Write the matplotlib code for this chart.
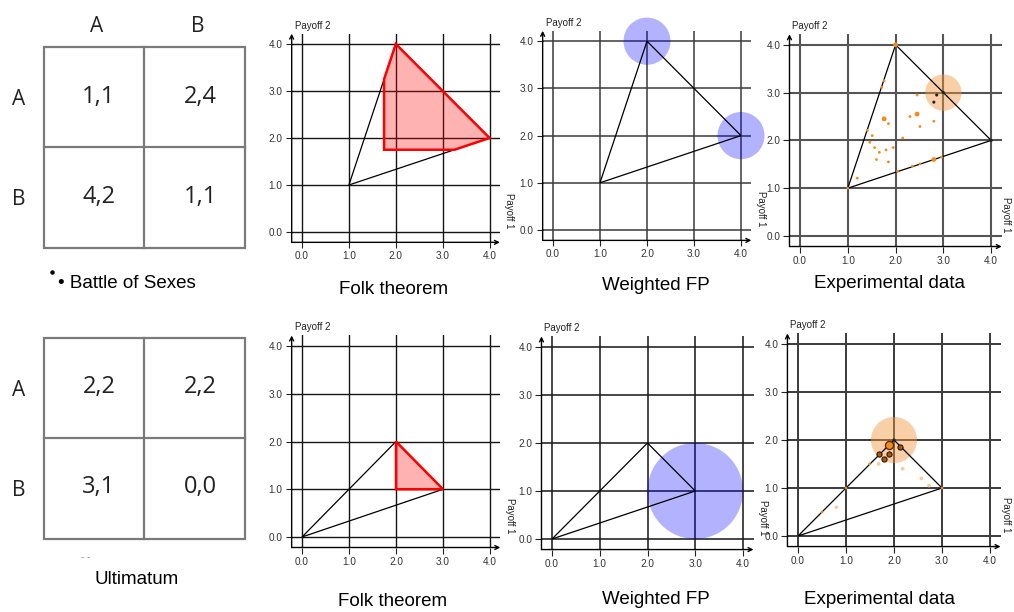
import matplotlib
matplotlib.use("Agg")
import matplotlib.pyplot as plt
from matplotlib.patches import Polygon, Circle, Rectangle

W, H = 1014, 612
fig = plt.figure(figsize=(W / 100, H / 100), dpi=100)

SANS = "Liberation Sans"
TABLE_FONT = "Open Sans"

# ---- the two stage games ----
row_labels = ["A", "B"]
col_labels = ["A", "B"]
bos_payoffs = [["1,1", "2,4"], ["4,2", "1,1"]]
ult_payoffs = [["2,2", "2,2"], ["3,1", "0,0"]]

# ---- payoff sets ----
tick_values = [0, 1, 2, 3, 4]
tick_labels = ["0.0", "1.0", "2.0", "3.0", "4.0"]

bos_hull_x = [1, 2, 4]
bos_hull_y = [1, 4, 2]
ult_hull_x = [0, 2, 3]
ult_hull_y = [0, 2, 1]

# individually rational feasible region (folk theorem)
bos_folk_x = [2, 4, 3.25, 1.75, 1.75]
bos_folk_y = [4, 2, 1.75, 1.75, 3.25]
ult_folk_x = [2, 3, 2]
ult_folk_y = [2, 1, 1]

# weighted fictitious play limit points
bos_fp_x = [2, 4]
bos_fp_y = [4, 2]
bos_fp_r = [0.5, 0.5]
ult_fp_x = [3]
ult_fp_y = [1]
ult_fp_r = [1.0]

# experimental outcome clusters
bos_exp_x = [3]
bos_exp_y = [3]
bos_exp_r = [0.38]
ult_exp_x = [2]
ult_exp_y = [2]
ult_exp_r = [0.48]

# observed average payoffs (kind: s small, m medium, k black, p pale, d dark, L large)
bos_obs_x = [2.0, 1.76, 1.71, 2.45, 2.86, 2.80, 1.76, 1.85, 2.45, 2.30, 2.51, 2.80,
             1.41, 1.51, 1.46, 1.56, 1.66, 1.80, 1.95, 2.15, 1.60, 1.85, 1.20, 1.0,
             2.04, 2.35, 2.51, 2.80, 2.96, 4.0, 3.0]
bos_obs_y = [4.0, 3.25, 3.11, 2.95, 2.95, 2.80, 2.45, 2.35, 2.55, 2.50, 2.29, 2.40,
             2.21, 2.10, 1.96, 1.85, 1.75, 1.80, 1.85, 2.05, 1.60, 1.55, 1.21, 1.0,
             1.35, 1.46, 1.51, 1.60, 1.65, 2.0, 3.0]
bos_obs_kind = ["m", "s", "s", "s", "k", "k", "m", "s", "m", "s", "s", "s",
                "s", "s", "s", "s", "s", "s", "s", "s", "s", "s", "s", "s",
                "s", "s", "s", "m", "s", "k", "k"]

ult_obs_x = [1.89, 1.68, 1.79, 1.89, 2.13, 1.68, 1.49, 2.18, 2.57, 2.73, 3.0, 1.0,
             0.5, 0.80, 2.0]
ult_obs_y = [1.90, 1.70, 1.60, 1.70, 1.85, 1.50, 1.50, 1.40, 1.20, 1.05, 1.0, 1.0,
             0.5, 0.60, 2.0]
ult_obs_kind = ["L", "d", "d", "d", "d", "p", "s", "p", "p", "p", "s", "s",
                "s", "p", "k"]

TITLES_TOP = ["Folk theorem", "Weighted FP", "Experimental data"]
TITLES_BOTTOM = ["Folk theorem", "Weighted FP", "Experimental data"]

# ---- styling ----
KIND_STYLE = {
    "s": dict(s=4, c="#f28a1e", edgecolors="none"),
    "m": dict(s=12, c="#f28a1e", edgecolors="none"),
    "k": dict(s=5, c="#222222", edgecolors="none"),
    "p": dict(s=7, c="#fcc89c", edgecolors="none"),
    "d": dict(s=14, c="#b25400", edgecolors="#111111", linewidths=0.7),
    "L": dict(s=34, c="#f28a1e", edgecolors="#5a2a00", linewidths=0.9),
}
XA, XB = -0.22, 4.22
YA, YB = -0.22, 4.22

# overlay in pixel coordinates for tables and captions
ov = fig.add_axes([0, 0, 1, 1])
ov.set_xlim(0, W)
ov.set_ylim(H, 0)
ov.axis("off")


def panel(x0, y0, sx, sy, grid_color, grid_lw, label_dx=4.42):
    left = x0 + XA * sx
    right = x0 + XB * sx
    top = y0 - YB * sy
    bottom = y0 - YA * sy
    ax = fig.add_axes([left / W, 1 - bottom / H, (right - left) / W, (bottom - top) / H])
    ax.set_xlim(XA, XB)
    ax.set_ylim(YA, YB)
    ax.patch.set_alpha(0)
    for sp in ax.spines.values():
        sp.set_visible(False)
    for v in tick_values:
        ax.axvline(v, color=grid_color, lw=grid_lw, zorder=1)
        ax.axhline(v, color=grid_color, lw=grid_lw, zorder=1)
    ax.set_xticks(tick_values)
    ax.set_xticklabels(tick_labels)
    ax.set_yticks(tick_values)
    ax.set_yticklabels(tick_labels)
    ax.tick_params(length=4, width=0.8, color="#222222", labelsize=7.2,
                   labelcolor="#333333", pad=2.5)
    for lab in ax.get_xticklabels() + ax.get_yticklabels():
        lab.set_fontfamily(SANS)
    arrow = dict(arrowstyle="->", lw=1.0, color="black", shrinkA=0, shrinkB=0,
                 mutation_scale=7)
    ax.annotate("", xy=(XB, YA), xytext=(XA, YA), arrowprops=arrow,
                annotation_clip=False)
    ax.annotate("", xy=(XA, YB), xytext=(XA, YA), arrowprops=arrow,
                annotation_clip=False)
    ov.text(left + 3, top - 8, "Payoff 2", fontsize=7, family=SANS,
            color="#222222", ha="left", va="center")
    ov.text(x0 + label_dx * sx, y0 - 0.45 * sy, "Payoff 1", fontsize=7, family=SANS,
            color="#222222", rotation=270, ha="center", va="center")
    return ax


def hull(ax, xs, ys):
    ax.add_patch(Polygon(list(zip(xs, ys)), closed=True, fill=False,
                         edgecolor="black", lw=0.9, zorder=3))


def circles(ax, xs, ys, rs, color, alpha):
    for x, y, r in zip(xs, ys, rs):
        ax.add_patch(Circle((x, y), r, facecolor=color, alpha=alpha,
                            edgecolor="none", zorder=2, clip_on=False))


def observations(ax, xs, ys, kinds):
    for kind, style in KIND_STYLE.items():
        px = [x for x, k in zip(xs, kinds) if k == kind]
        py = [y for y, k in zip(ys, kinds) if k == kind]
        if px:
            ax.scatter(px, py, zorder=5, clip_on=False, **style)


# ---- top row: battle of the sexes ----
a1 = panel(302, 232, 46.9, 47.0, "#151515", 1.0)
hull(a1, bos_hull_x, bos_hull_y)
a1.add_patch(Polygon(list(zip(bos_folk_x, bos_folk_y)), closed=True,
                     facecolor=(1, 0, 0, 0.3), edgecolor="#ff0000", lw=1.8, zorder=4))

a2 = panel(553, 230, 47.0, 47.2, "#3a3a3a", 1.1)
circles(a2, bos_fp_x, bos_fp_y, bos_fp_r, "#0000ff", 0.3)
hull(a2, bos_hull_x, bos_hull_y)

a3 = panel(800, 236, 47.8, 47.8, "#555555", 1.5, label_dx=4.32)
circles(a3, bos_exp_x, bos_exp_y, bos_exp_r, "#f3963c", 0.45)
hull(a3, bos_hull_x, bos_hull_y)
observations(a3, bos_obs_x, bos_obs_y, bos_obs_kind)

# ---- bottom row: ultimatum ----
b1 = panel(302, 537, 47.0, 47.75, "#151515", 1.0)
hull(b1, ult_hull_x, ult_hull_y)
b1.add_patch(Polygon(list(zip(ult_folk_x, ult_folk_y)), closed=True,
                     facecolor=(1, 0, 0, 0.3), edgecolor="#ff0000", lw=1.8, zorder=4))

b2 = panel(552, 539, 47.75, 48.0, "#151515", 1.1)
circles(b2, ult_fp_x, ult_fp_y, ult_fp_r, "#0000ff", 0.3)
hull(b2, ult_hull_x, ult_hull_y)

b3 = panel(798, 536, 48.0, 48.0, "#3a3a3a", 1.4, label_dx=4.34)
circles(b3, ult_exp_x, ult_exp_y, ult_exp_r, "#f3963c", 0.45)
hull(b3, ult_hull_x, ult_hull_y)
observations(b3, ult_obs_x, ult_obs_y, ult_obs_kind)

# ---- payoff matrices ----
def matrix(top, payoffs, show_cols):
    left, size = 43.5, 201
    half = size / 2
    ov.add_patch(Rectangle((left, top), size, size, fill=False,
                           edgecolor="#7a7a7a", lw=1.6))
    ov.plot([left + half, left + half], [top, top + size], color="#7a7a7a", lw=1.6)
    ov.plot([left, left + size], [top + half, top + half], color="#7a7a7a", lw=1.6)
    col_x = [99, 200]
    row_y = [top + 50, top + 150]
    if show_cols:
        for cx, lab in zip([97, 198], col_labels):
            ov.text(cx, top - 20, lab, fontsize=15, family=TABLE_FONT,
                    color="#222222", ha="center", va="center")
    for ry, lab in zip(row_y, row_labels):
        ov.text(18.5, ry + 3, lab, fontsize=15, family=TABLE_FONT,
                color="#222222", ha="center", va="center")
    for i, ry in enumerate(row_y):
        for j, cx in enumerate(col_x):
            ov.text(cx, ry, payoffs[i][j], fontsize=17, family=TABLE_FONT,
                    color="#222222", ha="center", va="center")


matrix(46.5, bos_payoffs, True)
matrix(337.5, ult_payoffs, False)

ov.plot([52], [272], marker="o", ms=2.2, color="black")
ov.text(58, 283, "\u2022 Battle of Sexes", fontsize=13.5, family=SANS,
        color="black", ha="left", va="center")
ov.text(86, 557, "- -", fontsize=7, family=SANS, color="#888888",
        ha="center", va="center")
ov.text(137, 579, "Ultimatum", fontsize=13.5, family=SANS, color="black",
        ha="center", va="center")

for cx, cy, t in zip([394, 656, 889], [289, 285, 284], TITLES_TOP):
    ov.text(cx, cy, t, fontsize=13.5, family=SANS, color="black",
            ha="center", va="center")
for cx, cy, t in zip([393, 656, 880], [601, 599, 599], TITLES_BOTTOM):
    ov.text(cx, cy, t, fontsize=13.5, family=SANS, color="black",
            ha="center", va="center")

fig.savefig("out.png", dpi=100)
